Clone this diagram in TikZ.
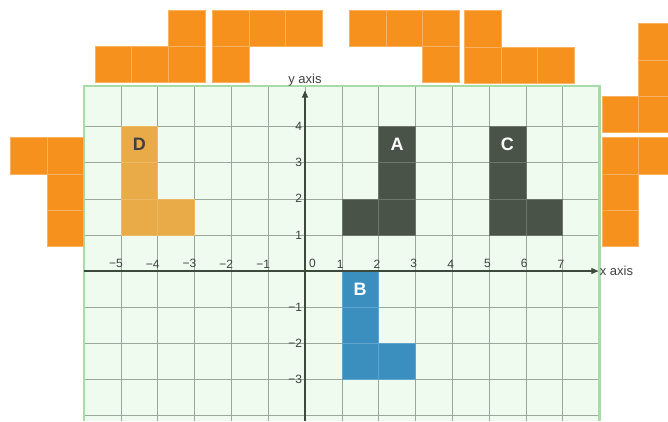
\documentclass[tikz,border=0pt]{standalone}
\usepackage{fontspec}
\setmainfont{Liberation Sans}
\usetikzlibrary{arrows.meta}

\definecolor{padgreen}{HTML}{EEFBEE}
\definecolor{padedge}{HTML}{A8DBA8}
\definecolor{gridgrey}{HTML}{98A998}
\definecolor{axisgrey}{HTML}{3C4A3C}
\definecolor{textgrey}{HTML}{404040}
\definecolor{tileorange}{HTML}{F7911E}
\definecolor{shapedark}{HTML}{4A5347}
\definecolor{shapeblue}{HTML}{3A8FBF}
\definecolor{shapegold}{HTML}{E9AB48}

\tikzset{
  tile/.style={fill=tileorange,draw=tileorange!70!white,line width=0.6pt},
  gridline/.style={draw=gridgrey,line width=0.6pt},
  axis/.style={draw=axisgrey,line width=1.1pt},
  ticklabel/.style={font=\fontsize{12}{14}\selectfont,text=textgrey,inner sep=1pt},
  shapelabel/.style={font=\fontsize{18}{20}\selectfont\bfseries,inner sep=0pt}
}

\begin{document}
\begin{tikzpicture}[x=36.8pt,y=36.1pt]
\useasboundingbox (-8.288,-4.155) rectangle (9.864,7.507);

% the pad
\fill[padgreen] (-6,-4.155) rectangle (8,5.125);
\foreach \x in {-5,...,7}
  \draw[gridline] (\x,-4.155) -- (\x,5.125);
\foreach \y in {-4,...,4}
  \draw[gridline] (-6,\y) -- (8,\y);
\draw[padedge,line width=2.4pt] (-6,-4.155) -- (-6,5.125) -- (8,5.125) -- (8,-4.155);

% shapes on the grid
\foreach \p/\q in {1/1,2/1,2/2,2/3}
  \draw[fill=shapedark,draw=shapedark!80!white,line width=0.6pt] (\p,\q) rectangle ++(1,1);
\foreach \p/\q in {5/1,6/1,5/2,5/3}
  \draw[fill=shapedark,draw=shapedark!80!white,line width=0.6pt] (\p,\q) rectangle ++(1,1);
\foreach \p/\q in {1/-1,1/-2,1/-3,2/-3}
  \draw[fill=shapeblue,draw=shapeblue!80!white,line width=0.6pt] (\p,\q) rectangle ++(1,1);
\foreach \p/\q in {-5/3,-5/2,-5/1,-4/1}
  \draw[fill=shapegold,draw=shapegold!85!white,line width=0.6pt] (\p,\q) rectangle ++(1,1);
\node[shapelabel,text=white] (A) at (2.5,3.5) {A};
\node[shapelabel,text=white] (C) at (5.5,3.5) {C};
\node[shapelabel,text=white] (B) at (1.5,-0.5) {B};
\node[shapelabel,text=textgrey] (D) at (-4.5,3.5) {D};

% axes
\draw[axis,-{Triangle[length=7pt,width=6pt]}] (-6,0) -- (7.97,0);
\draw[axis,-{Triangle[length=7pt,width=6pt]}] (0,-4.155) -- (0,5.0);
\node[ticklabel,anchor=west,font=\fontsize{13}{15}\selectfont] (xname) at (7.98,0) {x axis};
\node[ticklabel,font=\fontsize{13}{15}\selectfont] (yname) at (0,5.3) {y axis};
\foreach \x/\t [count=\i] in {-5/−5,-4/−4,-3/−3,-2/−2,-1/−1,1/1,2/2,3/3,4/4,5/5,6/6,7/7}
  \node[ticklabel,anchor=south east] (tx\i) at (\x+0.08,0.05) {\t};
\foreach \y/\t [count=\i] in {-3/−3,-2/−2,-1/−1,1/1,2/2,3/3,4/4}
  \node[ticklabel,anchor=east] (ty\i) at (-0.05,\y) {\t};
\node[ticklabel,anchor=south west] (zero) at (0.08,0.05) {0};

% orange pieces round the pad
\begin{scope}[shift={(-5.707,5.23)}]
  \foreach \p/\q in {0/0,1/0,2/0,2/1} \draw[tile] (\p,\q) rectangle ++(1,1);
\end{scope}
\begin{scope}[shift={(-2.527,5.23)}]
  \foreach \p/\q in {0/0,0/1,1/1,2/1} \draw[tile] (\p,\q) rectangle ++(1,1);
\end{scope}
\begin{scope}[shift={(1.196,5.23)}]
  \foreach \p/\q in {0/1,1/1,2/1,2/0} \draw[tile] (\p,\q) rectangle ++(1,1);
\end{scope}
\begin{scope}[shift={(4.321,5.21)}]
  \foreach \p/\q in {0/0,1/0,2/0,0/1} \draw[tile] (\p,\q) rectangle ++(1,1);
\end{scope}
\begin{scope}[shift={(8.07,3.85)}]
  \foreach \p/\q in {0/0,1/0,1/1,1/2} \draw[tile] (\p,\q) rectangle ++(1,1);
\end{scope}
\begin{scope}[shift={(8.07,0.69)}]
  \foreach \p/\q in {0/0,0/1,0/2,1/2} \draw[tile] (\p,\q) rectangle ++(1,1);
\end{scope}
\begin{scope}[shift={(-8.016,0.69)}]
  \foreach \p/\q in {1/0,1/1,1/2,0/2} \draw[tile] (\p,\q) rectangle ++(1,1);
\end{scope}
\end{tikzpicture}
\end{document}
